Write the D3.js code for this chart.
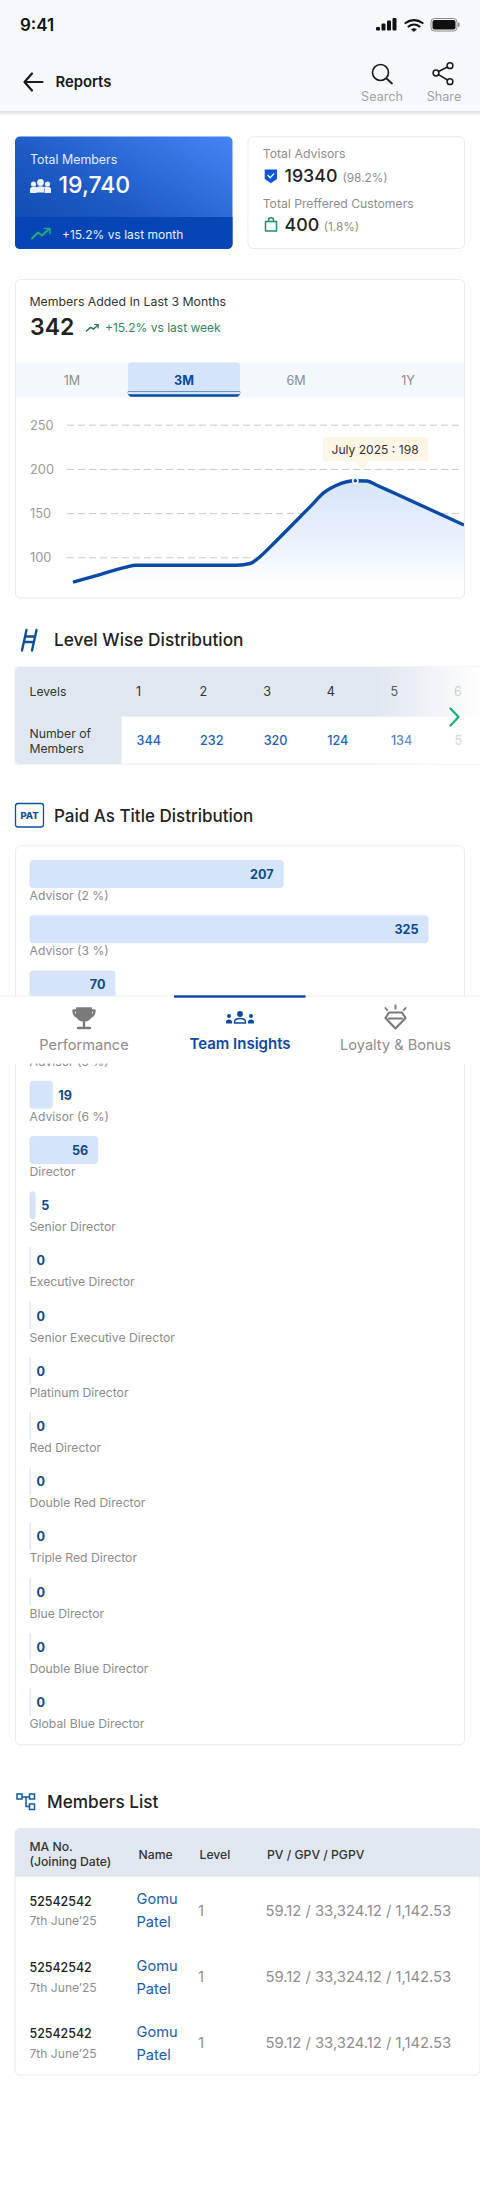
<!DOCTYPE html>
<html><head><meta charset="utf-8">
<script src="https://cdn.jsdelivr.net/npm/d3@7"></script>
<style>html,body{margin:0;padding:0;background:#fff}svg{display:block;font-family:Inter,"Noto Sans",sans-serif}</style>
</head><body><div id="app"></div>
<script>
// ---- data ----
const trendPosition=[0,6.9,13.3,16.1,41.9,45.3,48.3,51.7,60.6,64.4,67,70,72.2,75.2,77.7,82.4,100];
const trendValues=[72,80.5,88.6,91,91,93,102.6,117.3,157,174,180.7,185.5,186.6,186.3,181.5,172.2,136.5];
const yTicks=[100,150,200,250];
const rangeTabs=["1M","3M","6M","1Y"];
const levelNumbers=["1","2","3","4","5","6"];
const levelMembers=["344","232","320","124","134","5"];
const titleLabels=["Advisor (2 %)","Advisor (3 %)","Advisor (4 %)","Advisor (5 %)","Advisor (6 %)","Director","Senior Director","Executive Director","Senior Executive Director","Platinum Director","Red Director","Double Red Director","Triple Red Director","Blue Director","Double Blue Director","Global Blue Director"];
const titleValues=[207,325,70,38,19,56,5,0,0,0,0,0,0,0,0,0];
const memberIds=["52542542","52542542","52542542"];
const memberDates=["7th June’25","7th June’25","7th June’25"];
const memberFirst=["Gomu","Gomu","Gomu"];
const memberLast=["Patel","Patel","Patel"];
const memberLevels=["1","1","1"];
const memberVolumes=["59.12 / 33,324.12 / 1,142.53","59.12 / 33,324.12 / 1,142.53","59.12 / 33,324.12 / 1,142.53"];
const navLabels=["Performance","Team Insights","Loyalty & Bonus"];

const svg=d3.select("#app").append("svg").attr("width",480).attr("height",2200).attr("viewBox","0 0 480 2200");
const defs=svg.append("defs");
function grad(id,x1,y1,x2,y2,stops){const g=defs.append("linearGradient").attr("id",id).attr("x1",x1).attr("y1",y1).attr("x2",x2).attr("y2",y2);
 stops.forEach(s=>g.append("stop").attr("offset",s[0]).attr("stop-color",s[1]).attr("stop-opacity",s[2]===undefined?1:s[2]));}
grad("kpi","0","1","1","0.1",[[0,"#0a49ae"],[0.45,"#1d5ac4"],[1,"#4381f2"]]);
grad("hdrShadow","0","0","0","1",[[0,"#000",0.13],[1,"#000",0]]);
grad("fade","0","0","1","0",[[0,"#fff",0],[1,"#fff",0.96]]);
grad("areaFill","0","0","0","1",[[0,"#d6e5fb"],[0.5,"#e8f0fd"],[1,"#ffffff"]]);
defs.append("clipPath").attr("id","chartClip").append("rect").attr("x",16).attr("y",397).attr("width",448).attr("height",200);

function t(g,x,y,s,size,weight,fill,anchor){return g.append("text").attr("x",x).attr("y",y).text(s).attr("font-size",size).attr("font-weight",weight||400).attr("fill",fill||"#222").attr("text-anchor",anchor||"start");}
function r(g,x,y,w,h,fill,rx){return g.append("rect").attr("x",x).attr("y",y).attr("width",w).attr("height",h).attr("fill",fill).attr("rx",rx||0);}
function p(g,d,stroke,sw,fill){return g.append("path").attr("d",d).attr("stroke",stroke||"none").attr("stroke-width",sw||0).attr("fill",fill||"none").attr("stroke-linecap","round").attr("stroke-linejoin","round");}
function card(g,x,y,w,h){return r(g,x,y,w,h,"#fff",5).attr("stroke","#e6e9ee").attr("stroke-width",1);}

r(svg,0,0,480,2200,"#fff");

// ---- KPI cards ----
const kpi=svg.append("g");
r(kpi,15,136.5,217.5,112.5,"url(#kpi)",5);
p(kpi,"M15 217H232.5V244a5 5 0 0 1-5 5H20a5 5 0 0 1-5-5Z",null,0,"#0545b5");
t(kpi,30,163.5,"Total Members",12.4,400,"#e4edff");
t(kpi,58.5,193,"19,740",23,500,"#fff");
const ppl=kpi.append("g").attr("fill","#eaf1ff");
[[40.5,182.5,3.4],[33.5,184,2.6],[47.5,184,2.6]].forEach(c=>ppl.append("circle").attr("cx",c[0]).attr("cy",c[1]).attr("r",c[2]));
p(ppl,"M30 193v-3.5q0-2.8 3.5-2.8h3V193ZM51 193v-3.5q0-2.8-3.5-2.8h-3V193ZM36 192.5v-3q0-3.2 4.5-3.2t4.5 3.2v3Z",null,0,"#eaf1ff");
p(kpi,"M32 238.5l6-6 4 3 7-6.5","#1fae7c",2);
p(kpi,"M44.5 228.5h5.5v5","#1fae7c",1.6);
t(kpi,62,238.5,"+15.2% vs last month",12,400,"#e7efff");

card(kpi,248,136.8,216.5,111.7);
t(kpi,262.7,158.2,"Total Advisors",12.3,400,"#8d8d8d");
p(kpi,"M264.7 169.5h12.3v9.5l-6.15 4.2l-6.15-4.2Z",null,0,"#0d57d3");
p(kpi,"M268 175.5l2.2 2.2l3.6-3.8","#fff",1.3);
t(kpi,284.5,182,"19340",17.8,500,"#222");
t(kpi,342.5,182,"(98.2%)",11.8,400,"#8d8d8d");
t(kpi,262.7,207.5,"Total Preffered Customers",12.2,400,"#8d8d8d");
p(kpi,"M265.5 221.5h11v9.5h-11ZM268.5 221.5v-1.2a2.5 2.5 0 0 1 5 0v1.2","#1f9069",1.5);
t(kpi,284.5,231,"400",17.8,500,"#222");
t(kpi,323.7,231,"(1.8%)",11.8,400,"#8d8d8d");

// ---- Members chart ----
const mc=svg.append("g");
card(mc,15.5,279.5,449,318.5);
t(mc,29.5,306,"Members Added In Last 3 Months",12.3,400,"#333");
t(mc,30,334.5,"342",23,600,"#222");
p(mc,"M86.5 331l4-3.6 3 1.6 4.5-4","#1f7a5a",1.5);
p(mc,"M94.5 324.5h3.6v3.4","#1f7a5a",1.2);
t(mc,105,332.3,"+15.2% vs last week",12,400,"#2c8463");
r(mc,16,362.5,448,35,"#f3f8fd");
const tabX=d3.scaleBand().domain(rangeTabs).range([16,464]);
p(mc,"M128 392.5V366a3.5 3.5 0 0 1 3.5-3.5h105a3.5 3.5 0 0 1 3.5 3.5v26.5Z",null,0,"#d5e4fb");
p(mc,"M128 392q0 4.5 3.5 4.5h105q3.5 0 3.5-4.5Z","#0e4a9c",0.6,"#0e4a9c");
p(mc,"M128 392h112v2.2h-112Z",null,0,"#d5e4fb");
mc.selectAll(".tab").data(rangeTabs).join("text").attr("class","tab")
 .attr("x",d=>tabX(d)+tabX.bandwidth()/2).attr("y",385).attr("text-anchor","middle").text(d=>d)
 .attr("font-size",12.6).attr("font-weight",d=>d==="3M"?700:400).attr("fill",d=>d==="3M"?"#0e4a9c":"#8d8d8d");

const xT=d3.scaleLinear().domain([0,100]).range([73,464]);
const yT=d3.scaleLinear().domain([100,250]).range([557.3,424.7]);
const yAxis=d3.axisLeft(yT).tickValues(yTicks).tickSize(-393).tickPadding(0).tickFormat(d3.format("d"));
const gA=mc.append("g").attr("transform","translate(67,0)").call(yAxis);
gA.select(".domain").remove();
gA.selectAll("line").attr("stroke","#c9c9c9").attr("stroke-width",1).attr("stroke-dasharray","7 4");
gA.selectAll("text").attr("x",-37).attr("text-anchor","start").attr("dy",0).attr("dominant-baseline","central").attr("font-size",12.8).attr("fill","#9a9a9a").attr("font-family","Inter,sans-serif");
const pts=trendPosition.map((d,i)=>[d,trendValues[i]]);
const curve=d3.curveMonotoneX;
const chartG=mc.append("g").attr("clip-path","url(#chartClip)");
chartG.append("path").attr("d",d3.area().x(d=>xT(d[0])).y0(yT(65)).y1(d=>yT(d[1])).curve(curve)(pts)).attr("fill","url(#areaFill)");
chartG.append("path").attr("d",d3.line().x(d=>xT(d[0])).y(d=>yT(d[1])).curve(curve)(pts)).attr("fill","none").attr("stroke","#0a4aa6").attr("stroke-width",3.4);
const peak=trendValues.indexOf(d3.max(trendValues));
mc.append("circle").attr("cx",xT(trendPosition[peak])).attr("cy",yT(trendValues[peak])).attr("r",3.4).attr("fill","#eaf2fe");
mc.append("circle").attr("cx",xT(trendPosition[peak])).attr("cy",yT(trendValues[peak])).attr("r",1.7).attr("fill","#0a4aa6");
p(mc,"M323 439a2 2 0 0 1 2-2h101a2 2 0 0 1 2 2v20a2 2 0 0 1-2 2H369l-7 9-7-9H325a2 2 0 0 1-2-2Z",null,0,"#fdf6e6");
t(mc,331.5,453.5,"July 2025 : 198",12.1,400,"#333");

// ---- Level wise ----
const lv=svg.append("g");
p(lv,"M26.5 630L22 650.5M36.5 630L32 650.5M25 636.5H35M24 642H34","#0e4f96",2.4);
t(lv,54,646,"Level Wise Distribution",17.3,500,"#222");
r(lv,15,667,465,97,"#fff").attr("stroke","#e6e9ee");
p(lv,"M15 672a5 5 0 0 1 5-5H480V716.7H121.5V764H20a5 5 0 0 1-5-5Z",null,0,"#e1e7f0");
t(lv,29.5,696,"Levels",12.2,400,"#333");
t(lv,29.5,738.3,"Number of",12.2,400,"#333");
t(lv,29.5,752.8,"Members",12.2,400,"#333");
const colX=d3.scalePoint().domain(d3.range(6)).range([136,454]);
lv.selectAll(".lvln").data(levelNumbers).join("text").attr("class","lvln").attr("x",(d,i)=>colX(i)).attr("y",696).text(d=>d).attr("font-size",12.6).attr("fill","#333");
lv.selectAll(".lvlm").data(levelMembers).join("text").attr("class","lvlm").attr("x",(d,i)=>colX(i)+0.5).attr("y",745).text(d=>d).attr("font-size",12.6).attr("font-weight",500).attr("fill","#1e63b5");
r(lv,375,667,105,97,"url(#fade)");
p(lv,"M450.5 708.5l8 8.5l-8 8.5","#1fae7c",2.4);

// ---- PAT ----
const pat=svg.append("g");
r(pat,15.5,803.5,28,23.5,"#fff",2.5).attr("stroke","#0e4f96").attr("stroke-width",1.3);
t(pat,29.5,819,"PAT",9.5,800,"#0e4f96","middle");
t(pat,54,821.5,"Paid As Title Distribution",17,500,"#222");
card(pat,15.5,845.8,449,899);
const xB=d3.scaleLinear().domain([0,325]).range([0,399]);
const yB=d3.scalePoint().domain(d3.range(titleValues.length)).range([860,860+55.2*(titleValues.length-1)]);
const rows=pat.selectAll(".patrow").data(titleValues).join("g").attr("class","patrow").attr("transform",(d,i)=>`translate(29.5,${yB(i)})`);
rows.append("rect").attr("width",d=>Math.max(1.5,xB(d))).attr("height",28).attr("rx",d=>d>3?4:0.8).attr("fill",d=>d>0?"#d5e4fb":"#dde8f8");
rows.append("text").attr("x",d=>xB(d)>40?xB(d)-10:Math.max(1.5,xB(d))+5.5).attr("y",19).attr("text-anchor",d=>xB(d)>40?"end":"start").text(d=>d).attr("font-size",12.6).attr("font-weight",700).attr("fill","#0e4a8c");
rows.append("text").attr("x",0).attr("y",40).text((d,i)=>titleLabels[i]).attr("font-size",12.2).attr("fill","#8b8b8b");

// ---- Members list ----
const ml=svg.append("g");
const ic=ml.append("g").attr("fill","none").attr("stroke","#0e5a9e").attr("stroke-width",1.5);
[[17,1794,5,5],[29.5,1794,5,5],[29.5,1804,5,5.5]].forEach(a=>ic.append("rect").attr("x",a[0]).attr("y",a[1]).attr("width",a[2]).attr("height",a[3]));
ic.append("path").attr("d","M22 1797H29.5M26 1797V1806.5H29.5");
t(ml,47,1807.5,"Members List",17.2,500,"#222");
r(ml,15,1828.5,465,246.5,"#fff",5).attr("stroke","#e6e9ee");
p(ml,"M15 1833.5a5 5 0 0 1 5-5H480V1876.7H15Z",null,0,"#e1e7f0");
t(ml,29.5,1851,"MA No.",12.2,500,"#333");
t(ml,29.5,1865.5,"(Joining Date)",12.2,500,"#333");
t(ml,138.5,1858.5,"Name",12.2,500,"#333");
t(ml,199.5,1858.5,"Level",12.2,500,"#333");
t(ml,267,1858.5,"PV / GPV / PGPV",12.2,500,"#333");
const yM=d3.scalePoint().domain(d3.range(3)).range([0,132.7]);
const mr=ml.selectAll(".mrow").data(memberIds).join("g").attr("class","mrow").attr("transform",(d,i)=>`translate(0,${yM(i)})`);
mr.append("text").attr("x",29.5).attr("y",1905.8).text(d=>d).attr("font-size",12.4).attr("font-weight",500).attr("fill","#222");
mr.append("text").attr("x",29.5).attr("y",1925.4).text((d,i)=>memberDates[i]).attr("font-size",12.1).attr("fill","#8e8e8e");
mr.append("text").attr("x",136.5).attr("y",1904.2).text((d,i)=>memberFirst[i]).attr("font-size",14.6).attr("fill","#1d5ca8");
mr.append("text").attr("x",136.5).attr("y",1927.4).text((d,i)=>memberLast[i]).attr("font-size",14.6).attr("fill","#1d5ca8");
mr.append("text").attr("x",198).attr("y",1915.8).text((d,i)=>memberLevels[i]).attr("font-size",14.8).attr("fill","#8e8e8e");
mr.append("text").attr("x",265.5).attr("y",1915.8).text((d,i)=>memberVolumes[i]).attr("font-size",14.8).attr("fill","#8e8e8e");

// ---- Bottom nav ----
const nav=svg.append("g");
r(nav,0,996,480,67.5,"#fff");
nav.append("line").attr("x1",0).attr("x2",480).attr("y1",996).attr("y2",996).attr("stroke","#e9ebee");
r(nav,174,995.3,131.5,2.4,"#0b42a5");
const navX=[84,240,395.5];
nav.selectAll(".nl").data(navLabels).join("text").attr("class","nl").attr("x",(d,i)=>navX[i]).attr("y",(d,i)=>i===1?1048.5:1049.5).attr("text-anchor","middle").text(d=>d)
 .attr("font-size",(d,i)=>i===1?15:14.6).attr("font-weight",(d,i)=>i===1?600:400).attr("fill",(d,i)=>i===1?"#0f4a9e":"#8b8b8b");
p(nav,"M77 1008.5H91V1014q0 6-7 6.5q-7-.5-7-6.5ZM77 1010.5H73.5q0 5.5 4.5 6.5M91 1010.5H94.5q0 5.5-4.5 6.5M84 1020.5V1027M78 1028H90","#7a7a7a",2.4,null);
p(nav,"M77.5 1009H90.5V1014q0 5.8-6.5 6q-6.5-.2-6.5-6Z",null,0,"#7a7a7a");
const team=nav.append("g").attr("fill","#0f4a9e");
[[240,1014,2.9],[229,1016,2],[251,1016,2]].forEach(c=>team.append("circle").attr("cx",c[0]).attr("cy",c[1]).attr("r",c[2]));
p(team,"M226 1023.5v-1.5q0-2.5 3-2.5t3 2.5v1.5ZM248 1023.5v-1.5q0-2.5 3-2.5t3 2.5v1.5Z",null,0,"#0f4a9e");
p(nav,"M234.5 1023v-1q0-3.5 5.5-3.5t5.5 3.5v1Z","#0f4a9e",1.5);
p(nav,"M389 1012.5H402L405.5 1018L395.5 1028.5L385.5 1018Z","#7a7a7a",2.2);
p(nav,"M389 1018.5H402M395.5 1005.5v3M385.5 1008l1.6 2M405.5 1008l-1.6 2","#7a7a7a",2);

// ---- Header ----
const hd=svg.append("g");
r(hd,0,0,480,111,"#f5f9fe");
r(hd,0,111,480,5,"url(#hdrShadow)");
t(hd,20,31,"9:41",17,600,"#111");
[[376,27,3.5],[381.5,23.5,7],[387,20.5,10],[392.5,18,12.5]].forEach(a=>r(hd,a[0],a[1],4,a[2],"#111",1));
p(hd,"M405.5 23a14 14 0 0 1 17 0M408.5 26.5a9 9 0 0 1 11 0",  "#111",2.2);
p(hd,"M411.5 29.3a4.5 4.5 0 0 1 5 0L414 31.5Z","#111",0.6,"#111");
r(hd,431,18.5,26,12.5,"none",3.5).attr("stroke","#888").attr("stroke-width",1);
r(hd,432.5,20,23,9.5,"#111",2);
r(hd,458,22.5,1.5,4.5,"#888",0.7);
p(hd,"M25 82H42.5M32 73.5L24.5 82L32 90.5","#1a1a1a",2.2);
t(hd,55.5,87,"Reports",14.8,600,"#1a1a1a");
hd.append("circle").attr("cx",380.5).attr("cy",72.5).attr("r",8).attr("fill","none").attr("stroke","#1a1a1a").attr("stroke-width",1.6);
p(hd,"M386.5 78.5L392 83.5","#1a1a1a",1.8);
t(hd,382,100.5,"Search",12.6,400,"#a2a2a2","middle");
[[450,65.7],[436,73],[450,81.7]].forEach(c=>hd.append("circle").attr("cx",c[0]).attr("cy",c[1]).attr("r",2.9).attr("fill","none").attr("stroke","#1a1a1a").attr("stroke-width",1.5));
p(hd,"M447.5 67L438.5 71.5M438.5 74.7L447.5 80","#1a1a1a",1.5);
t(hd,444,100.5,"Share",12.6,400,"#a2a2a2","middle");
</script></body></html>
